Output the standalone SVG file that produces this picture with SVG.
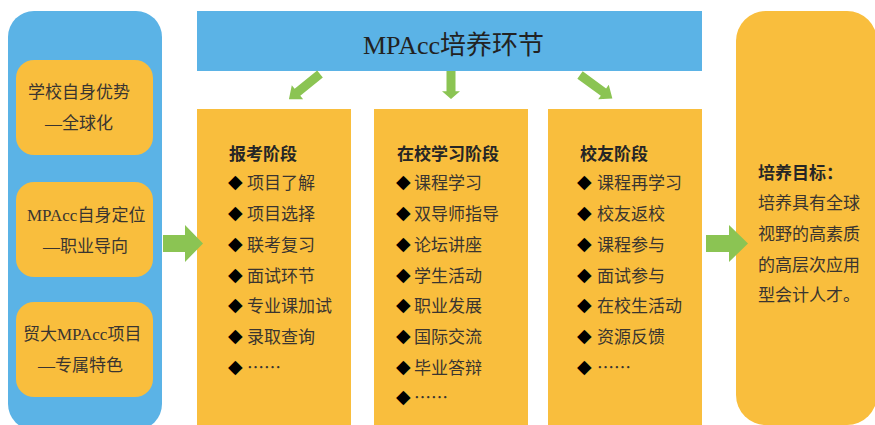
<svg xmlns="http://www.w3.org/2000/svg" width="875" height="425" viewBox="0 0 875 425">
<style>
.blue{fill:#5BB3E6}
.org{fill:#F9BE3D}
.grn{fill:#8BC453}
.t{font-family:"Liberation Serif","Noto Sans CJK SC",serif;font-size:17px;fill:#3a3530;dominant-baseline:central}
.it{font-family:"Noto Sans CJK SC",sans-serif;font-size:17px;fill:#3a3530;dominant-baseline:central}
.b{font-family:"Noto Sans CJK SC",sans-serif;font-size:17px;font-weight:bold;fill:#262626;dominant-baseline:central}
.d{font-family:"DejaVu Sans",sans-serif;font-size:19px;fill:#000;dominant-baseline:central}
</style>
<defs>
<path id="arr" d="M-4.5,0 L4.5,0 L4.5,29 L9,29 L0,40 L-9,29 L-4.5,29 Z"/>
</defs>
<rect width="875" height="425" fill="#fff"/>

<g id="left-panel">
<rect class="blue" x="8" y="11" width="154" height="419" rx="26"/>
</g>
<g id="node-school">
<rect class="org" x="16" y="60" width="137" height="95" rx="18"/>
<text class="t" x="28" y="92">学校自身优势</text>
<text class="t" x="45" y="123">—全球化</text>
</g>
<g id="node-position">
<rect class="org" x="16" y="182" width="137" height="95" rx="18"/>
<text class="t" x="27" y="215">MPAcc自身定位</text>
<text class="t" x="43" y="246">—职业导向</text>
</g>
<g id="node-feature">
<rect class="org" x="16" y="302" width="137" height="95" rx="18"/>
<text class="t" x="23" y="334">贸大MPAcc项目</text>
<text class="t" x="38" y="365">—专属特色</text>
</g>

<g id="title">
<rect class="blue" x="197" y="11" width="505" height="60"/>
<text x="363" y="45" style="font-family:'Liberation Serif','Noto Sans CJK SC',serif;font-size:26px;fill:#222;dominant-baseline:central">MPAcc培养环节</text>
</g>

<g id="col-apply">
<rect class="org" x="197" y="109" width="154" height="320"/>
<text class="b" x="229" y="152">报考阶段</text>
<text class="d" x="228" y="181">◆</text><text class="it" x="247" y="181">项目了解</text>
<text class="d" x="228" y="212">◆</text><text class="it" x="247" y="212">项目选择</text>
<text class="d" x="228" y="243">◆</text><text class="it" x="247" y="243">联考复习</text>
<text class="d" x="228" y="274">◆</text><text class="it" x="247" y="274">面试环节</text>
<text class="d" x="228" y="304">◆</text><text class="it" x="247" y="304">专业课加试</text>
<text class="d" x="228" y="335">◆</text><text class="it" x="247" y="335">录取查询</text>
<text class="d" x="228" y="366">◆</text><text class="it" x="247" y="366">……</text>
</g>

<g id="col-study">
<rect class="org" x="374" y="109" width="154" height="320"/>
<text class="b" x="397" y="152">在校学习阶段</text>
<text class="d" x="396" y="181">◆</text><text class="it" x="414" y="181">课程学习</text>
<text class="d" x="396" y="212">◆</text><text class="it" x="414" y="212">双导师指导</text>
<text class="d" x="396" y="243">◆</text><text class="it" x="414" y="243">论坛讲座</text>
<text class="d" x="396" y="274">◆</text><text class="it" x="414" y="274">学生活动</text>
<text class="d" x="396" y="304">◆</text><text class="it" x="414" y="304">职业发展</text>
<text class="d" x="396" y="335">◆</text><text class="it" x="414" y="335">国际交流</text>
<text class="d" x="396" y="366">◆</text><text class="it" x="414" y="366">毕业答辩</text>
<text class="d" x="396" y="396">◆</text><text class="it" x="414" y="396">……</text>
</g>

<g id="col-alumni">
<rect class="org" x="548" y="109" width="154" height="320"/>
<text class="b" x="580" y="152">校友阶段</text>
<text class="d" x="577" y="181">◆</text><text class="it" x="597" y="181">课程再学习</text>
<text class="d" x="577" y="212">◆</text><text class="it" x="597" y="212">校友返校</text>
<text class="d" x="577" y="243">◆</text><text class="it" x="597" y="243">课程参与</text>
<text class="d" x="577" y="274">◆</text><text class="it" x="597" y="274">面试参与</text>
<text class="d" x="577" y="304">◆</text><text class="it" x="597" y="304">在校生活动</text>
<text class="d" x="577" y="335">◆</text><text class="it" x="597" y="335">资源反馈</text>
<text class="d" x="577" y="366">◆</text><text class="it" x="597" y="366">……</text>
</g>

<g id="goal">
<rect class="org" x="736" y="11" width="141" height="414" rx="30"/>
<text class="b" x="758" y="171">培养目标：</text>
<text class="it" x="758" y="201">培养具有全球</text>
<text class="it" x="758" y="232">视野的高素质</text>
<text class="it" x="758" y="263">的高层次应用</text>
<text class="it" x="758" y="293">型会计人才。</text>
</g>

<g id="connectors">
<path class="grn" d="M163,235 L185,235 L185,225 L203,243.5 L185,262 L185,252 L163,252 Z"/>
<path class="grn" d="M706,235 L729,235 L729,225 L748,243.5 L729,262 L729,252 L706,252 Z"/>
<use href="#arr" class="grn" transform="translate(320,74) rotate(51)"/>
<use href="#arr" class="grn" transform="translate(451,71) scale(1,0.7)"/>
<use href="#arr" class="grn" transform="translate(580,75) rotate(-54)"/>
</g>
</svg>
